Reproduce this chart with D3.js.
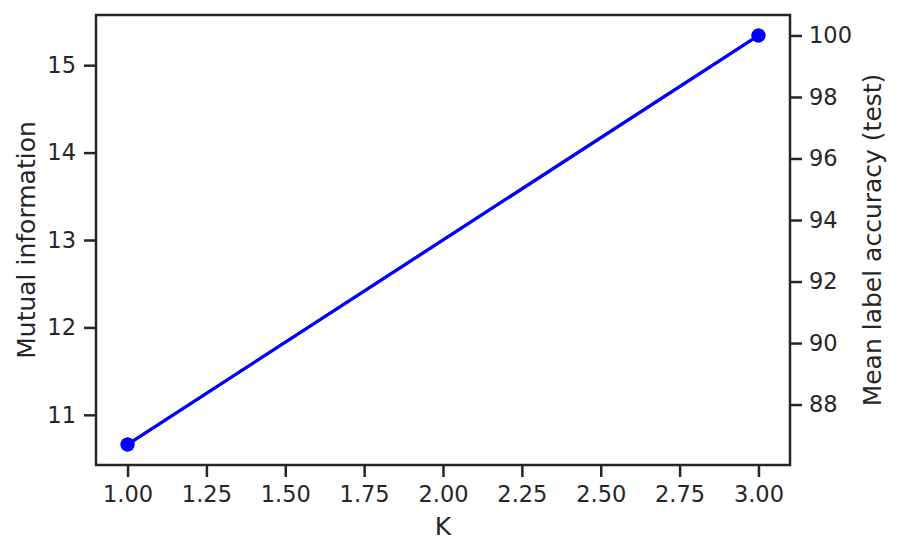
<!DOCTYPE html>
<html>
<head>
<meta charset="utf-8">
<script src="https://cdn.jsdelivr.net/npm/d3@7"></script>
<style>
  html, body { margin: 0; padding: 0; background: #fff; }
  svg { display: block; font-family: "DejaVu Sans", sans-serif; }
</style>
</head>
<body>
<svg id="chart" width="901" height="555"></svg>
<script>
const kValues = [1, 3];
const mutualInfo = [10.66, 15.34];
const accuracy = [86.7, 100.0];
const xTicks = [1.0, 1.25, 1.5, 1.75, 2.0, 2.25, 2.5, 2.75, 3.0];
const leftTicks = [11, 12, 13, 14, 15];
const rightTicks = [88, 90, 92, 94, 96, 98, 100];

const W = 901, H = 555;
const m = { left: 96, right: 111, top: 15, bottom: 90 };
const iw = W - m.left - m.right, ih = H - m.top - m.bottom;
const ink = "#262626";
const blue = "#0000ff";

function padDomain(arr) {
  const lo = d3.min(arr), hi = d3.max(arr), p = (hi - lo) * 0.05;
  return [lo - p, hi + p];
}

const svg = d3.select("#chart");
const g = svg.append("g").attr("transform", `translate(${m.left},${m.top})`);

const x = d3.scaleLinear().domain(padDomain(kValues)).range([0, iw]);
const yL = d3.scaleLinear().domain(padDomain(mutualInfo)).range([ih, 0]);
const yR = d3.scaleLinear().domain(padDomain(accuracy)).range([ih, 0]);

function styleAxis(sel) {
  sel.selectAll(".domain").remove();
  sel.selectAll(".tick line").attr("stroke", ink).attr("stroke-width", 2.5);
  sel.selectAll(".tick text").attr("fill", ink).attr("font-size", 22.5)
    .attr("font-family", "DejaVu Sans, sans-serif");
}

g.append("g").attr("transform", `translate(0,${ih})`)
  .call(d3.axisBottom(x).tickValues(xTicks).tickFormat(d3.format(".2f")).tickSize(12).tickPadding(9))
  .call(styleAxis);
g.append("g")
  .call(d3.axisLeft(yL).tickValues(leftTicks).tickFormat(d3.format("d")).tickSize(12).tickPadding(8))
  .call(styleAxis);
g.append("g").attr("transform", `translate(${iw},0)`)
  .call(d3.axisRight(yR).tickValues(rightTicks).tickFormat(d3.format("d")).tickSize(12).tickPadding(7))
  .call(styleAxis);

// series
const lineL = d3.line().x((d, i) => x(kValues[i])).y(d => yL(d));
const lineR = d3.line().x((d, i) => x(kValues[i])).y(d => yR(d));

g.append("path").datum(accuracy).attr("d", lineR).attr("fill", "none")
  .attr("stroke", blue).attr("stroke-width", 3);
g.selectAll(".ptR").data(accuracy).enter().append("circle")
  .attr("cx", (d, i) => x(kValues[i])).attr("cy", d => yR(d)).attr("r", 7).attr("fill", blue);

g.append("path").datum(mutualInfo).attr("d", lineL).attr("fill", "none")
  .attr("stroke", blue).attr("stroke-width", 3);
g.selectAll(".ptL").data(mutualInfo).enter().append("circle")
  .attr("cx", (d, i) => x(kValues[i])).attr("cy", d => yL(d)).attr("r", 7).attr("fill", blue);

// frame
g.append("rect").attr("x", 0).attr("y", 0).attr("width", iw).attr("height", ih)
  .attr("fill", "none").attr("stroke", ink).attr("stroke-width", 2.5);

// labels
svg.append("text").attr("x", m.left + iw / 2).attr("y", 535)
  .attr("text-anchor", "middle").attr("fill", ink).attr("font-size", 25).text("K");
svg.append("text").attr("transform", `translate(35,${m.top + ih / 2}) rotate(-90)`)
  .attr("text-anchor", "middle").attr("fill", ink).attr("font-size", 25).text("Mutual information");
svg.append("text").attr("transform", `translate(881,${m.top + ih / 2}) rotate(-90)`)
  .attr("text-anchor", "middle").attr("fill", ink).attr("font-size", 25).text("Mean label accuracy (test)");
</script>
</body>
</html>
